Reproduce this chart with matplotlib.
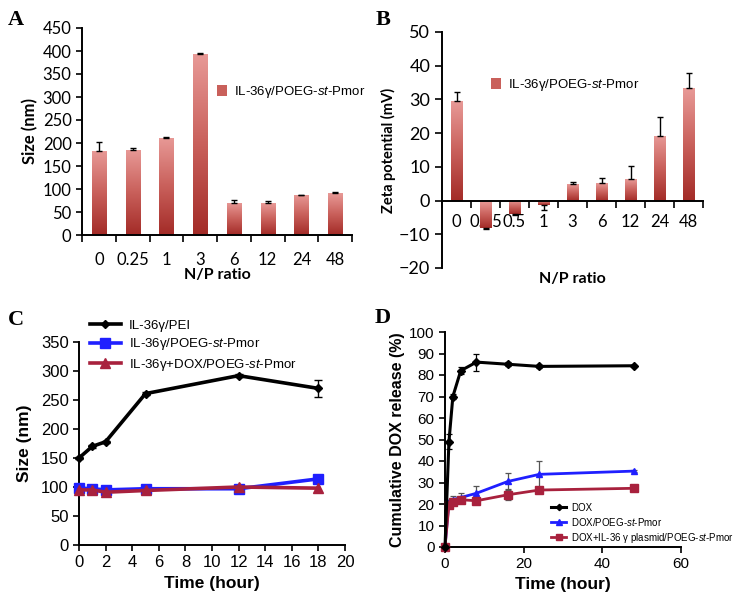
import numpy as np
import matplotlib
matplotlib.use("Agg")
import matplotlib.pyplot as plt
from matplotlib.colors import LinearSegmentedColormap

plt.rcParams['mathtext.fontset'] = 'custom'
plt.rcParams['mathtext.rm'] = 'Liberation Sans'
plt.rcParams['mathtext.it'] = 'Liberation Sans:italic'

# ---------------- data ----------------
a_cats = ["0", "0.25", "1", "3", "6", "12", "24", "48"]
a_vals = [183, 185, 211, 394, 70, 69, 87, 91]
a_err = [20, 4, 1, 1, 6, 5, 1, 3]

b_cats = ["0", "0.25", "0.5", "1", "3", "6", "12", "24", "48"]
b_vals = [29.5, -8.0, -4.0, -1.2, 4.8, 5.2, 6.5, 19.3, 33.4]
b_err = [2.6, 0.4, 0.2, 1.5, 0.6, 1.5, 3.9, 5.4, 4.5]

c_time = [0, 1, 2, 5, 12, 18]
c_pei = [150, 170, 178, 261, 292, 270]
c_pei_err = [2, 2, 2, 2, 2, 15]
c_poeg = [98, 97, 95, 97, 97, 114]
c_dox = [95, 95, 91, 94, 100, 98]

d_time = [0, 1, 2, 4, 8, 16, 24, 48]
d_dox = [0, 49, 70, 82, 86, 85, 84, 84.3]
d_dox_err = [0, 3.5, 1, 1.5, 4, 1, 0.8, 0.5]
d_poeg = [0, 21, 22, 23, 25, 30.5, 33.8, 35.3]
d_poeg_err = [0, 1, 1.5, 2, 3.5, 4, 6, 0.5]
d_il = [0, 19.5, 21, 22, 21.5, 24.3, 26.5, 27.3]
d_il_err = [0, 1, 1.5, 1, 1, 2.5, 1, 0.5]

legend_ab = "IL-36γ/POEG-$\\it{st}$-Pmor"

W, H = 737, 602
fig = plt.figure(figsize=(W / 100, H / 100), dpi=100)

def ax_px(l, t, r, b):
    return fig.add_axes([l / W, 1 - b / H, (r - l) / W, (b - t) / H])

cmap = LinearSegmentedColormap.from_list("g", ["#a32b27", "#c9605b", "#e89a97"])
grad = np.linspace(0, 1, 256).reshape(-1, 1)

def gradient_bars(ax, xs, vals, width):
    bars = ax.bar(xs, vals, width=width, color="#c9605b", edgecolor="none", zorder=2)
    for bar, v in zip(bars, vals):
        x0 = bar.get_x()
        x1 = x0 + bar.get_width()
        extent = (x0, x1, min(0, v), max(0, v))
        im = ax.imshow(grad, extent=extent, origin="lower", cmap=cmap, aspect="auto", zorder=2.5)
        im.set_clip_path(bar)
    return bars

sans_cal = "Lato"
arial = "Liberation Sans"
lw_sp = 1.4

# ---------------- Panel A ----------------
axA = ax_px(82, 28, 352, 235)
xa = np.arange(len(a_cats))
barsA = gradient_bars(axA, xa, a_vals, 0.42)
axA.errorbar(xa, a_vals, yerr=[np.zeros(len(a_err)), a_err], fmt="none", ecolor="black",
             elinewidth=1, capsize=2.5, capthick=1, zorder=3)
axA.set_xlim(-0.5, len(a_cats) - 0.5)
axA.set_ylim(0, 450)
axA.set_yticks(np.arange(0, 451, 50))
axA.set_xticks(xa)
axA.set_xticklabels(a_cats, fontsize=12, family=sans_cal)
axA.set_xticks(np.arange(-0.5, len(a_cats), 1), minor=True)
axA.tick_params(axis="x", which="major", length=0, pad=12)
axA.tick_params(axis="x", which="minor", length=5, width=1.2, direction="out")
axA.tick_params(axis="y", length=4, width=1.2, direction="out", labelsize=12)
for lab in axA.get_yticklabels():
    lab.set_family(sans_cal)
for s in ["top", "right"]:
    axA.spines[s].set_visible(False)
for s in ["left", "bottom"]:
    axA.spines[s].set_linewidth(lw_sp)
axA.set_ylabel("Size (nm)", fontsize=12, fontweight="bold", family=sans_cal, labelpad=3)
axA.set_xlabel("N/P ratio", fontsize=11.5, fontweight="bold", family=sans_cal, labelpad=0)
axA.legend([barsA], [legend_ab], loc="upper left", bbox_to_anchor=(205 / W, 1 - 72 / H),
           bbox_transform=fig.transFigure, frameon=False, handlelength=0.8, handleheight=0.9,
           handletextpad=0.5, prop={"family": arial, "size": 9.5})
fig.text(8 / W, 1 - 20 / H, "A", fontsize=16, fontweight="bold", family="Liberation Serif", va="center")

# ---------------- Panel B ----------------
axB = ax_px(442, 32, 703, 268)
xb = np.arange(len(b_cats))
barsB = gradient_bars(axB, xb, b_vals, 0.4)
b_lo = [e if v < 0 else 0 for v, e in zip(b_vals, b_err)]
b_hi = [e if v >= 0 else 0 for v, e in zip(b_vals, b_err)]
axB.errorbar(xb, b_vals, yerr=[b_lo, b_hi], fmt="none", ecolor="black",
             elinewidth=1, capsize=2.5, capthick=1, zorder=3)
axB.set_xlim(-0.5, len(b_cats) - 0.5)
axB.set_ylim(-20, 50)
axB.set_yticks(np.arange(-20, 51, 10))
axB.spines["bottom"].set_position(("data", 0))
axB.set_xticks(xb)
axB.set_xticklabels(b_cats, fontsize=12, family=sans_cal)
axB.set_xticks(np.arange(-0.5, len(b_cats), 1), minor=True)
axB.tick_params(axis="x", which="major", length=0, pad=10)
axB.tick_params(axis="x", which="minor", length=5, width=1.2, direction="out")
axB.tick_params(axis="y", length=5, width=1.2, direction="out", labelsize=13)
for lab in axB.get_yticklabels():
    lab.set_family(sans_cal)
for s in ["top", "right"]:
    axB.spines[s].set_visible(False)
for s in ["left", "bottom"]:
    axB.spines[s].set_linewidth(lw_sp)
axB.set_ylabel("Zeta potential (mV)", fontsize=10.5, fontweight="bold", family=sans_cal, labelpad=2)
fig.text((442 + 703) / 2 / W, 1 - 279 / H, "N/P ratio", fontsize=11.5, fontweight="bold",
         family=sans_cal, ha="center", va="center")
axB.legend([barsB], [legend_ab], loc="upper left", bbox_to_anchor=(479 / W, 1 - 65 / H),
           bbox_transform=fig.transFigure, frameon=False, handlelength=0.8, handleheight=0.9,
           handletextpad=0.5, prop={"family": arial, "size": 9.5})
fig.text(376 / W, 1 - 20 / H, "B", fontsize=16, fontweight="bold", family="Liberation Serif", va="center")

# ---------------- Panel C ----------------
axC = ax_px(79, 342, 345, 545)
blue = "#1f1fff"
dred = "#a8213d"
l1 = axC.errorbar(c_time, c_pei, yerr=c_pei_err, color="black", lw=2.6, marker="D", ms=4.5,
                  capsize=3, elinewidth=1, capthick=1, zorder=4, clip_on=False)
l2, = axC.plot(c_time, c_poeg, color=blue, lw=2.6, marker="s", ms=7, zorder=3, clip_on=False)
l3, = axC.plot(c_time, c_dox, color=dred, lw=2.6, marker="^", ms=7, zorder=3.5, clip_on=False)
axC.set_xlim(0, 20)
axC.set_ylim(0, 350)
axC.set_xticks(np.arange(0, 21, 2))
axC.set_yticks(np.arange(0, 351, 50))
axC.tick_params(length=4, width=1.2, direction="out", labelsize=12)
for lab in axC.get_xticklabels() + axC.get_yticklabels():
    lab.set_family(arial)
for s in ["top", "right"]:
    axC.spines[s].set_visible(False)
for s in ["left", "bottom"]:
    axC.spines[s].set_linewidth(lw_sp)
axC.set_ylabel("Size (nm)", fontsize=12.5, fontweight="bold", family=arial, labelpad=6)
axC.set_xlabel("Time (hour)", fontsize=12.5, fontweight="bold", family=arial, labelpad=4)
axC.legend([l1[0], l2, l3], ["IL-36γ/PEI", "IL-36γ/POEG-$\\it{st}$-Pmor",
                             "IL-36γ+DOX/POEG-$\\it{st}$-Pmor"],
           loc="upper left", bbox_to_anchor=(83 / W, 1 - 313 / H), bbox_transform=fig.transFigure,
           frameon=False, handlelength=2.4, handletextpad=0.6, labelspacing=0.35,
           prop={"family": arial, "size": 9.5}, borderpad=0)
fig.text(8 / W, 1 - 320 / H, "C", fontsize=16, fontweight="bold", family="Liberation Serif", va="center")

# ---------------- Panel D ----------------
axD = ax_px(445, 332, 681, 547)
m1 = axD.errorbar(d_time, d_dox, yerr=d_dox_err, color="black", lw=2.2, marker="D", ms=4,
                  capsize=2.5, elinewidth=0.9, capthick=0.9, zorder=4, clip_on=False)
m2 = axD.errorbar(d_time, d_poeg, yerr=d_poeg_err, color=blue, ecolor="#555555", lw=2.0,
                  marker="^", ms=5, capsize=2.5, elinewidth=0.9, capthick=0.9, zorder=3, clip_on=False)
m3 = axD.errorbar(d_time, d_il, yerr=d_il_err, color=dred, ecolor="#555555", lw=2.0,
                  marker="s", ms=6, capsize=2.5, elinewidth=0.9, capthick=0.9, zorder=3.5, clip_on=False)
axD.set_xlim(0, 60)
axD.set_ylim(0, 100)
axD.set_xticks(np.arange(0, 61, 20))
axD.set_yticks(np.arange(0, 101, 10))
axD.tick_params(length=4, width=1.2, direction="out", labelsize=11)
for lab in axD.get_xticklabels() + axD.get_yticklabels():
    lab.set_family(arial)
for s in ["top", "right"]:
    axD.spines[s].set_visible(False)
for s in ["left", "bottom"]:
    axD.spines[s].set_linewidth(lw_sp)
axD.set_ylabel("Cumulative DOX release (%)", fontsize=11.5, fontweight="bold",
               family=arial, labelpad=3)
axD.set_xlabel("Time (hour)", fontsize=12.5, fontweight="bold", family=arial, labelpad=4)
axD.legend([m1[0], m2[0], m3[0]],
           ["DOX", "DOX/POEG-$\\it{st}$-Pmor", "DOX+IL-36 γ plasmid/POEG-$\\it{st}$-Pmor"],
           loc="upper left", bbox_to_anchor=(546 / W, 1 - 498 / H), bbox_transform=fig.transFigure,
           frameon=False, handlelength=1.6, handletextpad=0.5, labelspacing=0.3,
           prop={"family": arial, "size": 7}, borderpad=0, markerscale=0.8)
fig.text(375 / W, 1 - 318 / H, "D", fontsize=16, fontweight="bold", family="Liberation Serif", va="center")

fig.savefig("out.png", dpi=100)
